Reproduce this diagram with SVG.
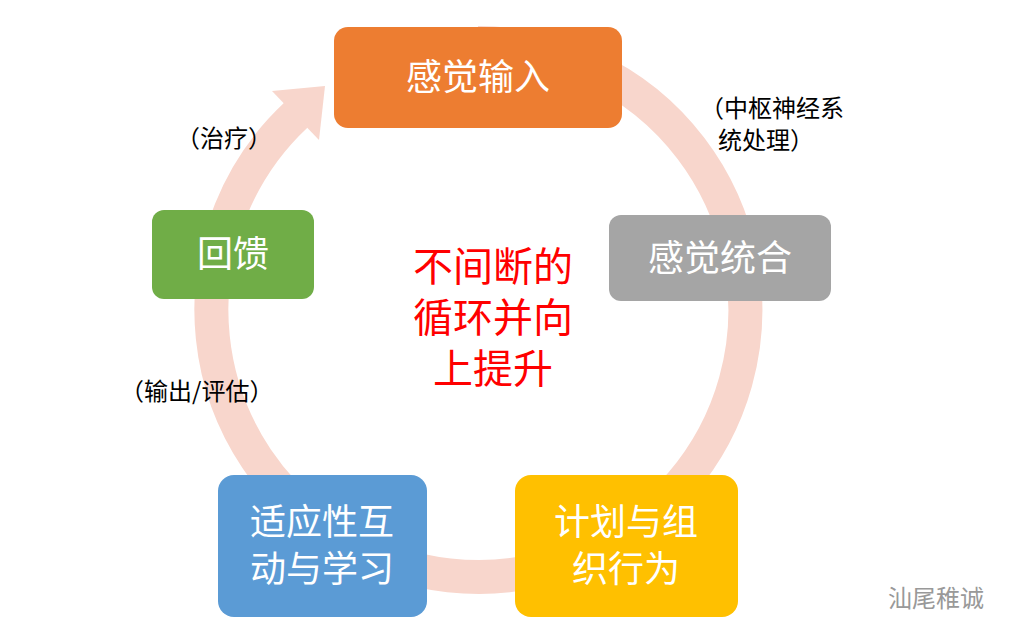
<svg xmlns="http://www.w3.org/2000/svg" width="1019" height="642" viewBox="0 0 1019 642">
<style>
text{font-family:"Noto Sans CJK SC","Liberation Sans",sans-serif;}
.bt{fill:#fff;font-size:36px;text-anchor:middle;}
.lb{fill:#000;font-size:24px;}
.rd{fill:#FF0000;font-size:40px;text-anchor:middle;}
</style>
<rect width="1019" height="642" fill="#fff"/>
<g id="connectors">
<path d="M 478 43 A 267 267 0 1 1 296 115" fill="none" stroke="#F8D6CC" stroke-width="34"/>
<polygon points="325,86 272,91 319,140" fill="#F8D6CC"/>
</g>
<g id="n1"><rect x="334" y="27" width="288" height="101" rx="14" fill="#ED7D31"/><text class="bt" x="478" y="90">感觉输入</text></g>
<g id="n2"><rect x="609" y="215" width="222" height="86" rx="12" fill="#A5A5A5"/><text class="bt" x="720" y="271">感觉统合</text></g>
<g id="n3"><rect x="515" y="475" width="223" height="142" rx="16" fill="#FFC000"/><text class="bt" x="626" y="535">计划与组</text><text class="bt" x="626" y="582">织行为</text></g>
<g id="n4"><rect x="218" y="475" width="209" height="142" rx="16" fill="#5B9BD5"/><text class="bt" x="322" y="535">适应性互</text><text class="bt" x="322" y="582">动与学习</text></g>
<g id="n5"><rect x="152" y="210" width="162" height="89" rx="12" fill="#70AD47"/><text class="bt" x="233" y="267">回馈</text></g>
<g id="labels">
<text class="lb" x="700" y="117">（中枢神经系</text>
<text class="lb" x="718" y="149">统处理）</text>
<text class="lb" x="176" y="147" font-size="26">（治疗）</text>
<text class="lb" x="120" y="400">（输出/评估）</text>
<text class="rd" x="493" y="281">不间断的</text>
<text class="rd" x="493" y="332">循环并向</text>
<text class="rd" x="493" y="383">上提升</text>
<text x="888" y="607" fill="#999" font-size="24">汕尾稚诚</text>
</g>
</svg>
